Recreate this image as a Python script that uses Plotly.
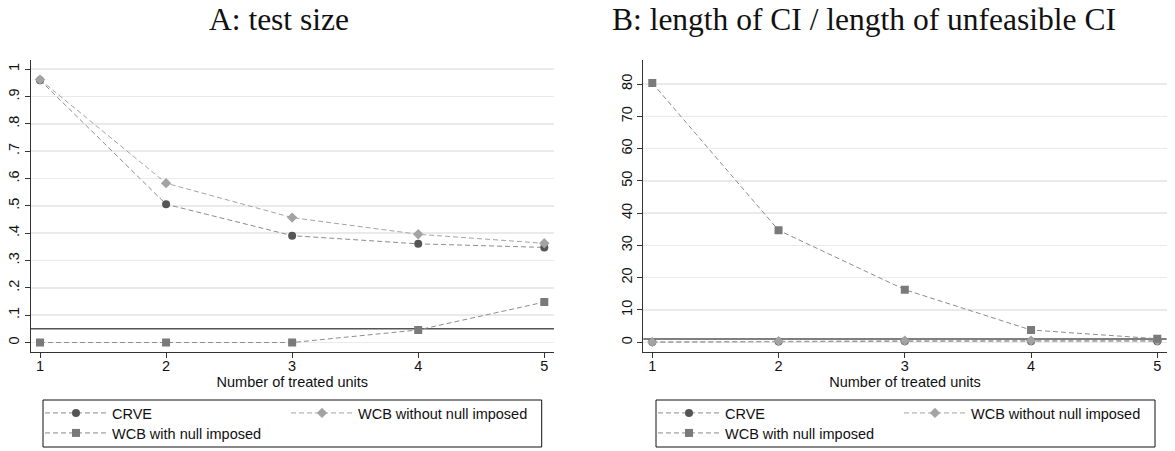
import plotly.graph_objects as go

# ---------------- data ----------------
x_units = [1, 2, 3, 4, 5]

size_crve = [0.960, 0.506, 0.391, 0.361, 0.348]
size_wcb_nonull = [0.962, 0.583, 0.457, 0.396, 0.363]
size_wcb_null = [0.0, 0.0, 0.0, 0.046, 0.148]
size_ref = 0.05

len_crve = [0.05, 0.25, 0.30, 0.35, 0.35]
len_wcb_nonull = [0.10, 0.35, 0.45, 0.50, 0.50]
len_wcb_null = [80.3, 34.7, 16.3, 3.8, 1.1]
len_ref = 1.0

size_tickvals = [0, 0.1, 0.2, 0.3, 0.4, 0.5, 0.6, 0.7, 0.8, 0.9, 1.0]
size_ticktext = ["0", ".1", ".2", ".3", ".4", ".5", ".6", ".7", ".8", ".9", "1"]
len_tickvals = [0, 10, 20, 30, 40, 50, 60, 70, 80]
len_ticktext = ["0", "10", "20", "30", "40", "50", "60", "70", "80"]
x_tickvals = [1, 2, 3, 4, 5]
x_ticktext = ["1", "2", "3", "4", "5"]

series_names = ["CRVE", "WCB without null imposed", "WCB with null imposed"]
panel_titles = ["A: test size", "B: length of CI / length of unfeasible CI"]
x_title = "Number of treated units"

# ---------------- layout helpers ----------------
W, H = 1175, 451


def px(x):
    return x / W


def py(y):
    return 1 - y / H


SANS = "Liberation Sans, Arial, Helvetica, sans-serif"
SERIF = "Liberation Serif, Times New Roman, serif"
TXT = "#111111"

styles = [
    dict(symbol="circle", mcolor="#555555", lcolor="#8c8c8c"),
    dict(symbol="diamond", mcolor="#a3a3a3", lcolor="#a3a3a3"),
    dict(symbol="square", mcolor="#7a7a7a", lcolor="#8c8c8c"),
]

fig = go.Figure()

panels = [
    dict(xa="x", ya="y", data=[size_crve, size_wcb_nonull, size_wcb_null],
         legends=["legend", "legend", "legend2"]),
    dict(xa="x2", ya="y2", data=[len_crve, len_wcb_nonull, len_wcb_null],
         legends=["legend3", "legend3", "legend4"]),
]

for p in panels:
    for name, vals, st, lg in zip(series_names, p["data"], styles, p["legends"]):
        fig.add_trace(go.Scatter(
            x=x_units, y=vals, name=name, mode="lines+markers",
            xaxis=p["xa"], yaxis=p["ya"], legend=lg,
            line=dict(color=st["lcolor"], width=1, dash="5px,3px"),
            marker=dict(symbol=st["symbol"], size=8, color=st["mcolor"],
                        line=dict(width=0)),
            hoverinfo="skip",
        ))

xaxis_common = dict(
    tickvals=x_tickvals, ticktext=x_ticktext,
    showline=True, linecolor="#333333", linewidth=1,
    ticks="outside", ticklen=5, tickcolor="#333333", tickwidth=1,
    showgrid=False, zeroline=False, ticklabelstandoff=-4,
    tickfont=dict(family=SANS, size=14.5, color=TXT),
    title=dict(text=x_title, font=dict(family=SANS, size=14.5, color=TXT), standoff=0),
    automargin=False,
)
yaxis_common = dict(
    showline=True, linecolor="#333333", linewidth=1,
    ticks="outside", ticklen=5, tickcolor="#333333", tickwidth=1,
    showgrid=True, gridcolor="#eaeaea", gridwidth=1.5, zeroline=False,
    tickangle=-90,
    tickfont=dict(family=SANS, size=14.5, color=TXT),
    automargin=False,
)

ydom = [py(351.7), py(59.5)]

fig.update_layout(
    width=W, height=H,
    margin=dict(l=0, r=0, t=0, b=0),
    paper_bgcolor="white", plot_bgcolor="white",
    xaxis=dict(xaxis_common, domain=[px(30.7), px(554.0)], range=[0.9262, 5.077], anchor="y"),
    yaxis=dict(yaxis_common, domain=ydom, range=[-0.0336, 1.0355],
               tickvals=size_tickvals, ticktext=size_ticktext, anchor="x"),
    xaxis2=dict(xaxis_common, domain=[px(643.3), px(1166.7)], range=[0.9287, 5.0745], anchor="y2"),
    yaxis2=dict(yaxis_common, domain=ydom, range=[-2.92, 87.6],
                tickvals=len_tickvals, ticktext=len_ticktext, anchor="x2"),
    showlegend=True,
)

leg_common = dict(
    orientation="h", xanchor="left", yanchor="middle",
    bgcolor="rgba(0,0,0,0)", borderwidth=0,
    font=dict(family=SANS, size=14.5, color=TXT),
    itemwidth=62, entrywidth=169, entrywidthmode="pixels",
    itemclick=False, itemdoubleclick=False,
)
fig.update_layout(
    legend=dict(leg_common, x=px(40), y=py(413)),
    legend2=dict(leg_common, x=px(40), y=py(433)),
    legend3=dict(leg_common, x=px(653), y=py(413)),
    legend4=dict(leg_common, x=px(653), y=py(433)),
)

shapes = [
    dict(type="line", xref="x domain", yref="y", x0=0, x1=1, y0=size_ref, y1=size_ref,
         line=dict(color="#555555", width=1.5), layer="below"),
    dict(type="line", xref="x2 domain", yref="y2", x0=0, x1=1, y0=len_ref, y1=len_ref,
         line=dict(color="#555555", width=1.5), layer="below"),
    dict(type="rect", xref="paper", yref="paper", x0=px(43), x1=px(541.7),
         y0=py(447), y1=py(400), line=dict(color="#111111", width=1)),
    dict(type="rect", xref="paper", yref="paper", x0=px(656), x1=px(1155),
         y0=py(447), y1=py(400), line=dict(color="#111111", width=1)),
]
fig.update_layout(shapes=shapes)

annotations = [
    dict(text=panel_titles[0], x=px(278.5), y=py(0), xref="paper", yref="paper",
         xanchor="center", yanchor="top", showarrow=False,
         font=dict(family=SERIF, size=31.5, color=TXT)),
    dict(text=panel_titles[1], x=px(864), y=py(0), xref="paper", yref="paper",
         xanchor="center", yanchor="top", showarrow=False,
         font=dict(family=SERIF, size=31.5, color=TXT)),
]
fig.update_layout(annotations=annotations)

fig.write_html(
    "out.html",
    config={"displayModeBar": False, "staticPlot": True},
    post_script="document.documentElement.style.margin='0';document.body.style.margin='0';",
)
